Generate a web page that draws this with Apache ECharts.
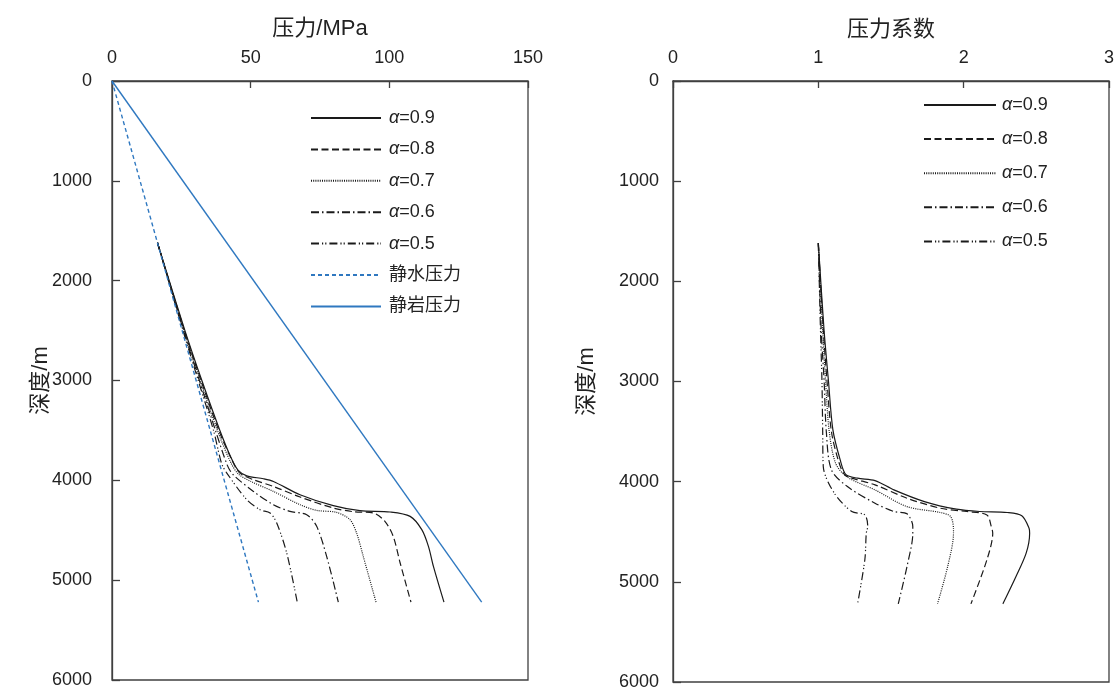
<!DOCTYPE html>
<html>
<head>
<meta charset="utf-8">
<script src="https://cdn.jsdelivr.net/npm/echarts@6/dist/echarts.min.js"></script>
<style>html,body{margin:0;padding:0;background:#fff}#c{width:1117px;height:693px}</style>
</head>
<body>
<div id="c"></div>
<script>
// ---- Data (pressure in MPa vs depth in m) ----
const pressureTicks = [0, 50, 100, 150];
const coefTicks = [0, 1, 2, 3];
const depthTicks = [0, 1000, 2000, 3000, 4000, 5000, 6000];
const alphaNames = ['α=0.9', 'α=0.8', 'α=0.7', 'α=0.6', 'α=0.5'];
const hydroName = '静水压力';
const rockName = '静岩压力';

// left chart: [pressure, depth]
const p09 = [[16.4,1620],[26.3,2500],[32.4,3000],[38.9,3500],[43.2,3790],[45.5,3900],[48.6,3955],[54.6,3984],[58.2,4011],[67.8,4144],[79.8,4254],[89.4,4304],[100.3,4317],[107.5,4361],[111.7,4494],[114.1,4661],[115.9,4862],[119.7,5220]];
const p08 = [[16.4,1620],[26.1,2500],[32.1,3000],[38.5,3500],[43.3,3800],[46,3925],[51,3994],[58.2,4061],[67.8,4167],[79.8,4277],[87,4314],[94.2,4327],[98.4,4411],[101.4,4561],[103.9,4828],[107.8,5220]];
const p07 = [[16.4,1620],[26.0,2500],[31.8,3000],[38.0,3500],[42.8,3820],[45.5,3935],[50,4010],[58.2,4111],[67.8,4244],[73.8,4301],[81,4321],[85.8,4394],[88.2,4528],[90.6,4762],[95.2,5220]];
const p06 = [[16.4,1620],[25.8,2500],[31.5,3000],[37.3,3500],[41.6,3850],[43.7,3944],[51,4111],[58.2,4244],[64.2,4311],[70.2,4344],[73.8,4461],[77.4,4762],[81.6,5220]];
const p05 = [[16.4,1620],[25.6,2500],[31.1,3000],[36.6,3500],[39.5,3830],[41.4,3927],[48.6,4194],[53.4,4294],[57,4327],[59.4,4428],[63,4728],[66.8,5220]];
const hydro = [[0,0],[52.8,5220]];
const rock = [[0,0],[133.3,5220]];

// right chart: [pressure coefficient, depth]
const c09 = [[1.0,1620],[1.04,2500],[1.07,3000],[1.10,3480],[1.15,3780],[1.19,3930],[1.27,3965],[1.39,3989],[1.52,4082],[1.73,4199],[1.95,4275],[2.11,4298],[2.30,4308],[2.40,4340],[2.45,4464],[2.454,4514],[2.43,4714],[2.36,4947],[2.27,5220]];
const c08 = [[1.0,1620],[1.035,2500],[1.06,3000],[1.09,3500],[1.14,3800],[1.18,3930],[1.23,3965],[1.39,4032],[1.61,4165],[1.84,4265],[2.02,4298],[2.16,4332],[2.19,4448],[2.20,4514],[2.16,4780],[2.05,5220]];
const c07 = [[1.0,1620],[1.03,2500],[1.05,3000],[1.075,3500],[1.12,3820],[1.20,3955],[1.39,4082],[1.61,4249],[1.84,4308],[1.91,4348],[1.93,4481],[1.93,4514],[1.89,4847],[1.82,5220]];
const c06 = [[1.0,1620],[1.02,2500],[1.04,3000],[1.055,3500],[1.09,3882],[1.20,4049],[1.39,4215],[1.52,4298],[1.61,4321],[1.65,4448],[1.65,4514],[1.61,4847],[1.55,5220]];
const c05 = [[1.0,1620],[1.015,2500],[1.025,3000],[1.03,3500],[1.034,3849],[1.11,4115],[1.23,4298],[1.32,4332],[1.34,4448],[1.33,4514],[1.32,4780],[1.27,5220]];

// ---- Styles ----
const black = '#1a1a1a';
const blue = '#2f78c0';
const axisColor = '#404040';
const textColor = '#222';
const font = '"Liberation Sans", Arial, "Noto Sans CJK SC", sans-serif';
const dashes = ['solid', [7, 3.5], [1, 1.2], [8, 3, 1.5, 3], [8, 3, 1.2, 2, 1.2, 3]];

const pSets = [p09, p08, p07, p06, p05];
const cSets = [c09, c08, c07, c06, c05];

function lineSeries(name, data, xi, yi, type, color, width) {
  return {
    name, type: 'line', data, xAxisIndex: xi, yAxisIndex: yi,
    symbol: 'none', smooth: 0.3,
    lineStyle: { color, width: width || 1.2, type },
    itemStyle: { color },
    emphasis: { disabled: true }, animation: false
  };
}

const series = [];
alphaNames.forEach((n, i) => series.push(lineSeries(n, pSets[i], 0, 0, dashes[i], black)));
series.push(lineSeries(hydroName, hydro, 0, 0, [4, 3], blue, 1.4));
series.push(lineSeries(rockName, rock, 0, 0, 'solid', blue, 1.4));
alphaNames.forEach((n, i) => series.push(lineSeries(n, cSets[i], 1, 1, dashes[i], black)));

function xAxis(gi, name, ticks, nameGap, labelMargin) {
  return {
    type: 'value', gridIndex: gi, position: 'top',
    min: ticks[0], max: ticks[ticks.length - 1], interval: ticks[1] - ticks[0],
    name, nameLocation: 'middle', nameGap, nameMoveOverlap: false,
    nameTextStyle: { fontFamily: font, fontSize: 22, color: textColor },
    axisLine: { lineStyle: { color: axisColor, width: 1.3 } },
    axisTick: { inside: true, length: 7, lineStyle: { color: axisColor, width: 1.3 } },
    axisLabel: { fontFamily: font, fontSize: 18, color: textColor, margin: labelMargin, formatter: v => String(v) },
    splitLine: { show: false }
  };
}
function yAxis(gi, nameGap, labelMargin) {
  return {
    type: 'value', gridIndex: gi, inverse: true,
    min: depthTicks[0], max: depthTicks[depthTicks.length - 1], interval: depthTicks[1] - depthTicks[0],
    name: '深度/m', nameLocation: 'middle', nameGap, nameRotate: 90, nameMoveOverlap: false,
    nameTextStyle: { fontFamily: font, fontSize: 22, color: textColor },
    axisLine: { lineStyle: { color: axisColor, width: 1.3 } },
    axisTick: { inside: true, length: 8, lineStyle: { color: axisColor, width: 1.3 } },
    axisLabel: { fontFamily: font, fontSize: 18, color: textColor, margin: labelMargin, formatter: v => String(v) },
    splitLine: { show: false }
  };
}

function legendText(pad) {
  return {
    fontFamily: font, fontSize: 18, color: textColor, padding: [0, 0, 0, pad],
    rich: { i: { fontStyle: 'italic', fontFamily: font, fontSize: 18, color: textColor } }
  };
}
const fmt = name => name.replace('α', '{i|α}');

const chart = echarts.init(document.getElementById('c'), null, { renderer: 'canvas' });
chart.setOption({
  backgroundColor: '#fff',
  animation: false,
  grid: [
    { left: 112, right: 589, top: 81, bottom: 13, show: true, borderColor: axisColor, borderWidth: 1.3 },
    { left: 673, right: 4, top: 81, bottom: 11, show: true, borderColor: axisColor, borderWidth: 1.3 }
  ],
  xAxis: [xAxis(0, '压力/MPa', pressureTicks, 41, 14), xAxis(1, '压力系数', coefTicks, 40, 14)],
  yAxis: [yAxis(0, 60, 20), yAxis(1, 75, 14)],
  legend: [
    {
      data: alphaNames.concat([hydroName, rockName]), orient: 'vertical',
      left: 305, top: 104, itemWidth: 70, itemHeight: 14, itemGap: 13.4,
      itemStyle: { opacity: 0 },
      textStyle: legendText(3), formatter: fmt, selectedMode: false
    },
    {
      data: alphaNames, orient: 'vertical',
      left: 918, top: 91, itemWidth: 72, itemHeight: 14, itemGap: 16.1,
      itemStyle: { opacity: 0 },
      textStyle: legendText(1), formatter: fmt, selectedMode: false
    }
  ],
  series
});
</script>
</body>
</html>
